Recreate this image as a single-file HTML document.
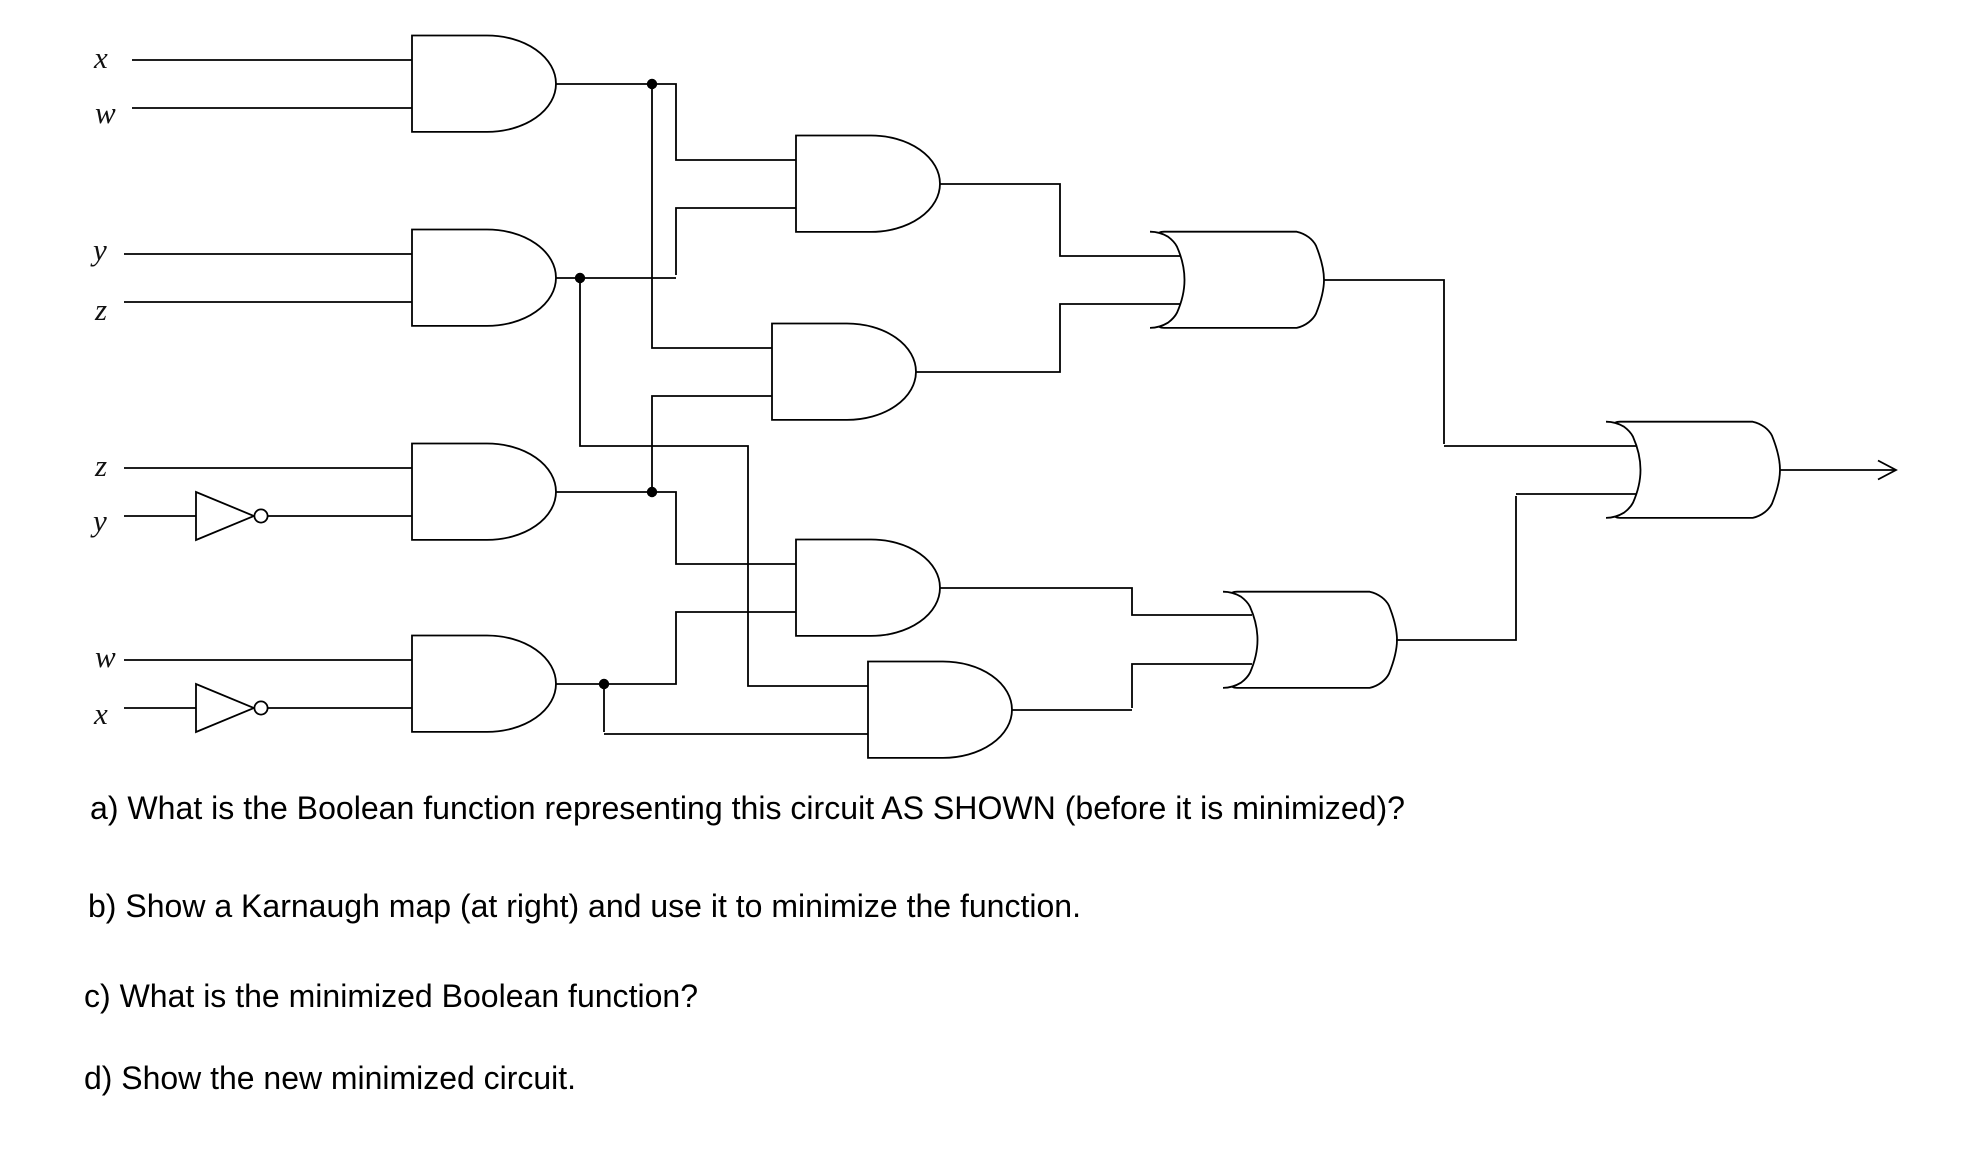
<!DOCTYPE html>
<html>
<head>
<meta charset="utf-8">
<style>
html,body{margin:0;padding:0;background:#fff;}
svg{display:block;}
.w{fill:none;stroke:#000;stroke-width:1.8;stroke-linejoin:miter;stroke-linecap:butt;}
.g{fill:#fff;stroke:#000;stroke-width:1.8;}
.l{font-family:"Liberation Serif",serif;font-style:italic;font-size:31px;fill:#111;}
.t{font-family:"Liberation Sans",sans-serif;font-size:32px;fill:#000;}
</style>
</head>
<body>
<svg width="1978" height="1152" viewBox="0 0 1978 1152" xmlns="http://www.w3.org/2000/svg">
<defs>
<path id="and" d="M0,0 H75 A69,48.2 0 0 1 75,96.4 H0 Z"/>
<path id="or" d="M0,0 C6,0 13,2 18,5 C22,8 25,11 27,15 C31,24 34.5,36 34.5,48.2 C34.5,60 31,72 27,81 C25,85 22,88 18,91 C13,94 6,96.2 0,96.2 M9,1 Q11,0 14,0 H146.7 C156,2 163,8 166,14 C170,24 174,36 174,48.2 C174,60 170,72 166,82 C163,88 156,94 146.7,96.2 H14 Q11,96.2 9,95"/>
</defs>

<!-- labels -->
<text class="l" x="94" y="68">x</text>
<text class="l" x="95" y="123">w</text>
<text class="l" x="93" y="260">y</text>
<text class="l" x="95" y="320">z</text>
<text class="l" x="95" y="476">z</text>
<text class="l" x="93" y="531">y</text>
<text class="l" x="95" y="667">w</text>
<text class="l" x="94" y="724">x</text>

<!-- input wires -->
<path class="w" d="M132,60H412M132,108H412M124,254H412M124,302H412M124,468H412M124,516H412M124,660H412M124,708H412"/>

<!-- inverters -->
<polygon class="g" points="196,492 196,540 254,516"/>
<circle class="g" cx="261" cy="516" r="6.6"/>
<polygon class="g" points="196,684 196,732 254,708"/>
<circle class="g" cx="261" cy="708" r="6.6"/>

<!-- internal wires -->
<path class="w" d="M556,84H676V160H796"/>
<path class="w" d="M652,84V348H772"/>
<path class="w" d="M556,278H676"/>
<path class="w" d="M676,275V208H796"/>
<path class="w" d="M580,278V446H748V686H868"/>
<path class="w" d="M772,396H652V492"/>
<path class="w" d="M556,492H676V564H796"/>
<path class="w" d="M556,684H676V612H796"/>
<path class="w" d="M604,684V732"/>
<path class="w" d="M604,734H868"/>
<path class="w" d="M940,184H1060V256H1180"/>
<path class="w" d="M916,372H1060V304H1180"/>
<path class="w" d="M940,588H1132V615H1252"/>
<path class="w" d="M1012,710H1132"/>
<path class="w" d="M1132,708V664H1252"/>
<path class="w" d="M1324,280H1444V444"/>
<path class="w" d="M1444,446H1636"/>
<path class="w" d="M1396,640H1516V496"/>
<path class="w" d="M1516,494H1636"/>
<path class="w" d="M1780,470H1896"/>
<path class="w" d="M1878,460.5L1896,470L1878,479.5"/>

<!-- junction dots -->
<circle cx="652" cy="84" r="5.2"/>
<circle cx="580" cy="278" r="5.2"/>
<circle cx="652" cy="492" r="5.2"/>
<circle cx="604" cy="684" r="5.2"/>

<!-- AND gates -->
<use href="#and" class="w" x="412" y="35.5"/>
<use href="#and" class="w" x="412" y="229.5"/>
<use href="#and" class="w" x="412" y="443.5"/>
<use href="#and" class="w" x="412" y="635.5"/>
<use href="#and" class="w" x="796" y="135.5"/>
<use href="#and" class="w" x="772" y="323.5"/>
<use href="#and" class="w" x="796" y="539.5"/>
<use href="#and" class="w" x="868" y="661.5"/>

<!-- OR gates -->
<use href="#or" class="w" x="1150" y="231.7"/>
<use href="#or" class="w" x="1223" y="591.7"/>
<use href="#or" class="w" x="1606" y="421.7"/>

<!-- question text -->
<text class="t" x="90" y="819" textLength="1315" lengthAdjust="spacingAndGlyphs">a) What is the Boolean function representing this circuit AS SHOWN (before it is minimized)?</text>
<text class="t" x="88" y="917" textLength="993" lengthAdjust="spacingAndGlyphs">b) Show a Karnaugh map (at right) and use it to minimize the function.</text>
<text class="t" x="84" y="1007" textLength="614" lengthAdjust="spacingAndGlyphs">c) What is the minimized Boolean function?</text>
<text class="t" x="84" y="1089" textLength="492" lengthAdjust="spacingAndGlyphs">d) Show the new minimized circuit.</text>
</svg>
</body>
</html>
